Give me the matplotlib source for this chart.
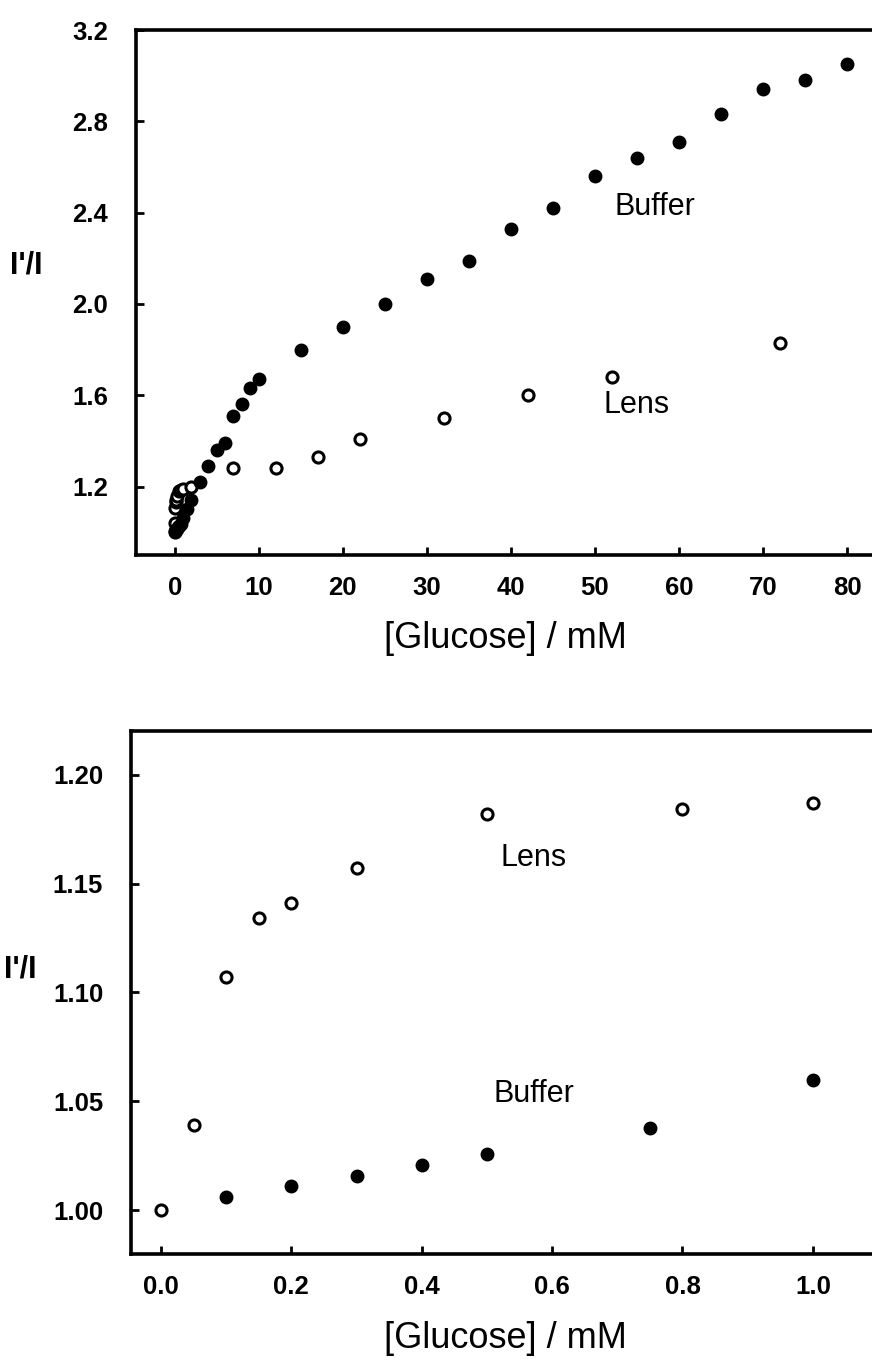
import matplotlib
matplotlib.use("Agg")
import matplotlib.pyplot as plt
from matplotlib.ticker import FormatStrFormatter

plt.rcParams['font.family'] = ['Liberation Sans', 'DejaVu Sans']

# ---- Top panel data (full range) ----
buffer_x_top = [0.1, 0.2, 0.3, 0.4, 0.5, 0.75, 1.0, 1.5, 2, 3, 4, 5, 6, 7, 8, 9, 10,
                15, 20, 25, 30, 35, 40, 45, 50, 55, 60, 65, 70, 75, 80]
buffer_y_top = [1.006, 1.011, 1.016, 1.021, 1.026, 1.038, 1.060, 1.10, 1.14, 1.22, 1.29,
                1.36, 1.39, 1.51, 1.56, 1.63, 1.67,
                1.80, 1.90, 2.00, 2.11, 2.19, 2.33, 2.42, 2.56, 2.64, 2.71, 2.83, 2.94, 2.98, 3.05]
lens_x_top = [0.0, 0.05, 0.1, 0.15, 0.2, 0.3, 0.5, 0.8, 1.0, 2, 7, 12, 17, 22, 32, 42, 52, 72]
lens_y_top = [1.000, 1.039, 1.107, 1.134, 1.141, 1.157, 1.182, 1.184, 1.187, 1.20,
              1.28, 1.28, 1.33, 1.41, 1.50, 1.60, 1.68, 1.83]

# ---- Bottom panel data (low concentrations) ----
buffer_x_bot = [0.1, 0.2, 0.3, 0.4, 0.5, 0.75, 1.0]
buffer_y_bot = [1.006, 1.011, 1.016, 1.021, 1.026, 1.038, 1.060]
lens_x_bot = [0.0, 0.05, 0.1, 0.15, 0.2, 0.3, 0.5, 0.8, 1.0]
lens_y_bot = [1.000, 1.039, 1.107, 1.134, 1.141, 1.157, 1.182, 1.184, 1.187]

top_xticks = [0, 10, 20, 30, 40, 50, 60, 70, 80]
top_yticks = [1.2, 1.6, 2.0, 2.4, 2.8, 3.2]
bot_xticks = [0.0, 0.2, 0.4, 0.6, 0.8, 1.0]
bot_yticks = [1.00, 1.05, 1.10, 1.15, 1.20]

W, H = 872, 1361
fig = plt.figure(figsize=(W / 100, H / 100), dpi=100)


def px_axes(left, top, right, bottom):
    return fig.add_axes([left / W, 1 - bottom / H, (right - left) / W, (bottom - top) / H])


def style(ax):
    for s in ax.spines.values():
        s.set_linewidth(2.6)
    ax.tick_params(direction='in', length=6, width=2, labelsize=18.5)
    ax.tick_params(axis='y', pad=20)
    ax.tick_params(axis='x', pad=15)
    for lab in ax.get_xticklabels() + ax.get_yticklabels():
        lab.set_fontweight('bold')


filled = dict(linestyle='none', marker='o', color='black', markersize=9)
hollow = dict(linestyle='none', marker='o', markerfacecolor='white',
              markeredgecolor='black', markersize=8, markeredgewidth=2.2)

# Top axes
ax1 = px_axes(136, 30, 889, 555)
ax1.plot(lens_x_top, lens_y_top, **hollow)
ax1.plot(buffer_x_top, buffer_y_top, **filled)
ax1.set_xlim(-4.6, 85)
ax1.set_ylim(0.9, 3.2)
ax1.set_xticks(top_xticks)
ax1.set_yticks(top_yticks)
ax1.yaxis.set_major_formatter(FormatStrFormatter('%.1f'))
style(ax1)
ax1.text(57.1, 2.425, 'Buffer', fontsize=22, ha='center', va='center')
ax1.text(55, 1.559, 'Lens', fontsize=22, ha='center', va='center')

# Bottom axes
ax2 = px_axes(131, 731, 878, 1254)
ax2.plot(lens_x_bot, lens_y_bot, **hollow)
ax2.plot(buffer_x_bot, buffer_y_bot, **filled)
ax2.set_xlim(-0.046, 1.1)
ax2.set_ylim(0.98, 1.22)
ax2.set_xticks(bot_xticks)
ax2.set_yticks(bot_yticks)
ax2.xaxis.set_major_formatter(FormatStrFormatter('%.1f'))
ax2.yaxis.set_major_formatter(FormatStrFormatter('%.2f'))
style(ax2)
ax2.text(0.572, 1.1617, 'Lens', fontsize=22, ha='center', va='center')
ax2.text(0.572, 1.0535, 'Buffer', fontsize=22, ha='center', va='center')

# Axis labels
fig.text(505 / W, 1 - 638 / H, '[Glucose] / mM', fontsize=26, ha='center', va='center')
fig.text(505 / W, 1 - 1338 / H, '[Glucose] / mM', fontsize=26, ha='center', va='center')
fig.text(26 / W, 1 - 265 / H, "I'/I", fontsize=22, ha='center', va='center', fontweight='bold')
fig.text(20 / W, 1 - 970 / H, "I'/I", fontsize=22, ha='center', va='center', fontweight='bold')

fig.savefig('out.png', dpi=100)
